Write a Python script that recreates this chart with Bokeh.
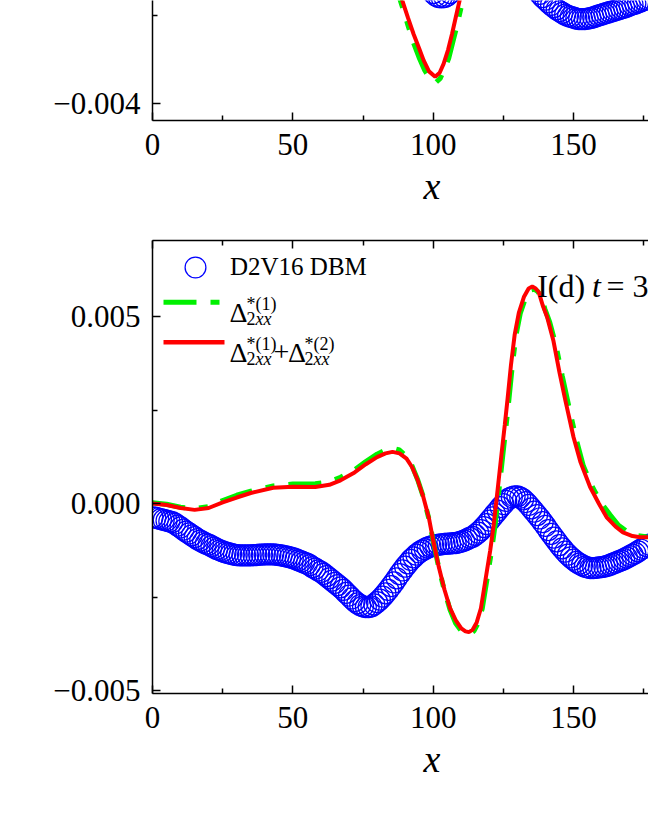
import numpy as np
from bokeh.plotting import figure
from bokeh.models import (Range1d, FixedTicker, LinearAxis, CustomJSTickFormatter,
                          Label, Arrow, Legend, LegendItem, Title)
from bokeh.layouts import column
from bokeh.embed import file_html
from bokeh.resources import INLINE

# ---------------- data ----------------
x_major_ticks = [0, 50, 100, 150]
x_minor_ticks = [25, 75, 125, 175]
bot_y_major = [-0.005, 0.0, 0.005]
bot_y_minor = [-0.0025, 0.0025]
top_y_major = [-0.004, 0.0, 0.004]
top_y_minor = [-0.002, 0.002]

# bottom panel, I(d)
blue_x_bot = list(range(0, 178))
blue_y_bot = [
    -0.00037, -0.00038, -0.00040, -0.00042, -0.00044, -0.00046, -0.00048, -0.00050, -0.00054, -0.00059,
    -0.00064, -0.00070, -0.00075, -0.00080, -0.00085, -0.00090, -0.00095, -0.00099, -0.00103, -0.00107,
    -0.00110, -0.00114, -0.00118, -0.00122, -0.00125, -0.00128, -0.00131, -0.00133, -0.00135, -0.00137,
    -0.00138, -0.00139, -0.00139, -0.00139, -0.00139, -0.00139, -0.00138, -0.00138, -0.00137, -0.00137,
    -0.00136, -0.00136, -0.00136, -0.00136, -0.00137, -0.00138, -0.00139, -0.00141, -0.00142, -0.00144,
    -0.00146, -0.00149, -0.00152, -0.00155, -0.00158, -0.00161, -0.00165, -0.00170, -0.00174, -0.00179,
    -0.00183, -0.00188, -0.00194, -0.00200, -0.00206, -0.00212, -0.00218, -0.00224, -0.00231, -0.00239,
    -0.00246, -0.00254, -0.00261, -0.00267, -0.00272, -0.00275, -0.00277, -0.00277, -0.00275, -0.00270,
    -0.00264, -0.00257, -0.00249, -0.00240, -0.00231, -0.00221, -0.00211, -0.00200, -0.00189, -0.00179,
    -0.00169, -0.00160, -0.00151, -0.00144, -0.00137, -0.00131, -0.00126, -0.00122, -0.00118, -0.00115,
    -0.00113, -0.00111, -0.00110, -0.00109, -0.00108, -0.00107, -0.00107, -0.00106, -0.00106, -0.00104,
    -0.00102, -0.00099, -0.00096, -0.00092, -0.00089, -0.00084, -0.00078, -0.00071, -0.00063, -0.00055,
    -0.00046, -0.00037, -0.00028, -0.00019, -0.00010, -0.00002, 0.00007, 0.00013, 0.00017, 0.00019,
    0.00019, 0.00016, 0.00011, 0.00004, -0.00004, -0.00013, -0.00022, -0.00031, -0.00040, -0.00050,
    -0.00060, -0.00071, -0.00081, -0.00091, -0.00101, -0.00111, -0.00120, -0.00129, -0.00137, -0.00144,
    -0.00150, -0.00156, -0.00161, -0.00165, -0.00169, -0.00171, -0.00173, -0.00173, -0.00172, -0.00171,
    -0.00170, -0.00169, -0.00167, -0.00164, -0.00161, -0.00158, -0.00155, -0.00152, -0.00149, -0.00145,
    -0.00141, -0.00137, -0.00133, -0.00128, -0.00123, -0.00119, -0.00114, -0.00110,
]
green_x_bot = [0, 5, 10, 15, 20, 25, 30, 35, 43, 50, 58, 63, 67, 72, 76, 80, 83, 85.5, 88, 90.5,
               92.5, 94.5, 96.5, 98.5, 100, 102, 104, 106, 108, 110, 111.5, 113, 114.5, 116, 117.5,
               119, 120.8, 122, 123.5, 124.8, 126, 127, 128.2, 129.5, 131, 132.8, 134.5, 136, 137.2,
               138.4, 139.8, 141.5, 143.8, 146, 148.3, 151, 153.5, 157, 160, 163, 166, 169, 172, 177]
green_y_bot = [0.00002, -0.00002, -0.0001, -0.00014, -0.00008, 0.00008, 0.00022, 0.00033, 0.00047, 0.00052,
               0.00053, 0.00058, 0.0007, 0.0009, 0.00112, 0.00132, 0.00143, 0.00148, 0.00143, 0.00126,
               0.001, 0.00063, 0.00017, -0.00042, -0.001, -0.00172, -0.00233, -0.00284, -0.0032, -0.00341,
               -0.00348, -0.00349, -0.00341, -0.0032, -0.0028, -0.0021, -0.00126, -0.0006, 0.0004, 0.0013,
               0.0021, 0.0028, 0.0037, 0.0045, 0.00508, 0.00548, 0.0057, 0.00573, 0.00567, 0.00555,
               0.0052, 0.00485, 0.0042, 0.0034, 0.0026, 0.0017, 0.0010, 0.0004, 0.0, -0.0003,
               -0.00058, -0.00075, -0.00085, -0.0009]
red_x_bot = [0, 5, 10, 15, 20, 25, 30, 35, 43, 50, 58, 63, 67, 72, 76, 80, 83, 85.5, 88, 90.5,
             92.5, 94.5, 96.5, 98.5, 100, 102, 104, 106, 108, 110, 111.5, 112.7, 114, 115.5, 117,
             118.5, 120.3, 121.5, 123, 124.3, 125.5, 126.5, 127.7, 129, 130.5, 132.3, 134, 135.3,
             136.5, 137.6, 139, 140.6, 142.8, 145, 147.1, 150, 152.5, 155.9, 159, 161.8, 165, 167.6,
             171, 173.7, 177]
red_y_bot = [0.0, -0.00004, -0.00012, -0.00017, -0.00012, 0.00003, 0.00016, 0.00028, 0.00042, 0.00045,
             0.00044, 0.0005, 0.00062, 0.00083, 0.00105, 0.00124, 0.00134, 0.00138, 0.00134, 0.00120,
             0.00097, 0.00062, 0.00017, -0.0004, -0.00099, -0.0017, -0.0023, -0.0028, -0.00312, -0.00334,
             -0.00342, -0.00344, -0.00338, -0.00318, -0.0028, -0.0021, -0.00126, -0.0006, 0.0004, 0.0013,
             0.0021, 0.0028, 0.0037, 0.0045, 0.0051, 0.00552, 0.00575, 0.0058, 0.00575, 0.00565,
             0.0053, 0.00498, 0.00436, 0.0035, 0.00275, 0.00177, 0.0011, 0.00044, 0.0, -0.00037,
             -0.00062, -0.00077, -0.00087, -0.0009, -0.0009]

# top panel (only its lower part is in view)
blue_x_top = list(range(97, 110)) + list(range(134, 178))
blue_y_top = [
    -0.00120, -0.00131, -0.00141, -0.00149, -0.00155, -0.00158, -0.00159, -0.00158, -0.00155, -0.00149,
    -0.00141, -0.00131, -0.00120,
    -0.00125, -0.00131, -0.00138, -0.00144, -0.00151, -0.00158, -0.00164, -0.00170, -0.00176, -0.00181,
    -0.00186, -0.00190, -0.00194, -0.00198, -0.00201, -0.00203, -0.00205, -0.00207, -0.00208, -0.00208,
    -0.00208, -0.00207, -0.00206, -0.00204, -0.00202, -0.00200, -0.00198, -0.00196, -0.00194, -0.00192,
    -0.00190, -0.00188, -0.00186, -0.00184, -0.00182, -0.00180, -0.00177, -0.00175, -0.00173, -0.00170,
    -0.00168, -0.00165, -0.00163, -0.00160,
]
green_x_top = [86, 87, 89, 91, 93, 95, 97, 99, 101, 102.5, 104, 105.5, 107, 108.5, 110, 112]
green_y_top = [-0.0011, -0.0014, -0.0018, -0.00222, -0.00262, -0.00296, -0.00325, -0.00345, -0.00352,
               -0.00343, -0.00322, -0.00298, -0.0026, -0.00222, -0.0018, -0.0012]
red_x_top = [86, 89, 91, 93, 95, 96.6, 98.5, 100.7, 102.3, 103.7, 105.3, 106.7, 108, 109.4, 111.5]
red_y_top = [-0.0012, -0.00166, -0.00205, -0.00242, -0.00275, -0.00302, -0.00327, -0.00339, -0.0033,
             -0.0031, -0.00278, -0.00242, -0.00205, -0.00166, -0.0011]

legend_dbm = "D2V16 DBM"
title_parts = ["I(d) ", "t", "= 3"]
x_title = "x"

# ---------------- style ----------------
FONT = "Liberation Serif"
BLUE = "#0000FF"
GREEN = "#00F000"
RED = "#FF0000"
GREEN_DASH = "33 14 9 14"
XR = (0.0, 176.7)
YR_BOT = (-0.0050802, 0.0070321)
YR_TOP = (-0.0043864, -0.0016591)
FRAME_W = 496
FRAME_H_BOT = 453
FRAME_TOP_PX_BOT = 240   # page px of bottom panel frame top
FRAME_LEFT_PX = 152
X_TITLE_OFFSET = 271     # from the frame's left edge (panel continues past the cut)

ytick_fmt = "return tick.toFixed(3).replace('-', '\u2212');"


def style_axis(ax):
    ax.axis_line_width = 1.5
    ax.axis_line_color = "black"
    ax.major_tick_line_width = 1.5
    ax.minor_tick_line_width = 1.5
    ax.major_tick_in = 8
    ax.major_tick_out = 0
    ax.minor_tick_in = 5
    ax.minor_tick_out = 0
    ax.major_label_text_font = FONT
    ax.major_label_text_color = "black"
    ax.major_label_text_font_size = "31px"


def make_fig(height, yr, ymaj, ymin, border_top, border_bottom, top_axis):
    p = figure(width=648, height=height, output_backend="svg", toolbar_location=None,
               x_range=Range1d(*XR), y_range=Range1d(*yr),
               min_border_left=152, min_border_right=0,
               min_border_top=border_top, min_border_bottom=border_bottom)
    p.outline_line_color = None
    p.xgrid.visible = False
    p.ygrid.visible = False
    p.background_fill_color = "white"
    p.border_fill_color = "white"
    xa = p.xaxis[0]
    xa.ticker = FixedTicker(ticks=x_major_ticks, minor_ticks=x_minor_ticks)
    style_axis(xa)
    xa.major_label_standoff = 13
    ya = p.yaxis[0]
    ya.ticker = FixedTicker(ticks=ymaj, minor_ticks=ymin)
    ya.formatter = CustomJSTickFormatter(code=ytick_fmt)
    style_axis(ya)
    ya.major_label_standoff = 12
    if top_axis:
        ta = LinearAxis(ticker=FixedTicker(ticks=x_major_ticks, minor_ticks=x_minor_ticks),
                        formatter=CustomJSTickFormatter(code="return '';"))
        style_axis(ta)
        ta.major_label_text_font_size = "8px"
        ta.major_label_standoff = 0
        p.add_layout(ta, "above")
    # x-axis title below the axis
    p.add_layout(Title(text=x_title, align="left", offset=X_TITLE_OFFSET, standoff=10,
                       text_font=FONT, text_font_style="italic", text_font_size="38px",
                       text_color="black"), "below")
    return p


def draw(p, bx, by, gx, gy, rx, ry):
    b = p.scatter(bx, by, marker="circle", size=21, fill_color=None, line_color=BLUE, line_width=1.25)
    p.line(gx, gy, line_color=GREEN, line_width=5, line_dash=GREEN_DASH)
    p.line(rx, ry, line_color=RED, line_width=4)
    return b


# top panel: frame from page y 0 to 120
p_top = make_fig(230, YR_TOP, top_y_major, top_y_minor, 0, 110, False)
draw(p_top, blue_x_top, blue_y_top, green_x_top, green_y_top, red_x_top, red_y_top)

# bottom panel: frame from page y 240 to 693
p_bot = make_fig(608, YR_BOT, bot_y_major, bot_y_minor, 10, 145, True)
b_r = draw(p_bot, blue_x_bot, blue_y_bot, green_x_bot, green_y_bot, red_x_bot, red_y_bot)


def dx(px):
    return XR[0] + (px - FRAME_LEFT_PX) * (XR[1] - XR[0]) / FRAME_W


def dy(py):
    return YR_BOT[1] - (py - FRAME_TOP_PX_BOT) * (YR_BOT[1] - YR_BOT[0]) / FRAME_H_BOT


def btxt(s, px, py, size, italic=False):
    p_bot.add_layout(Label(x=dx(px), y=dy(py), text=s, text_font=FONT,
                           text_font_size=f"{size}px", text_color="black",
                           text_font_style="italic" if italic else "normal",
                           text_align="left", text_baseline="alphabetic"))


# legend: circle item via Legend, the rest as texts + line samples
leg = Legend(items=[LegendItem(label=legend_dbm, renderers=[b_r])],
             location=(17, 400), glyph_width=52, glyph_height=52, padding=0, margin=0,
             spacing=0, label_standoff=9, label_text_font=FONT, label_text_font_size="25px",
             label_text_color="black", border_line_color=None, background_fill_alpha=0)
p_bot.add_layout(leg)

p_bot.add_layout(Arrow(end=None, x_start=dx(163), y_start=dy(301.7), x_end=dx(221), y_end=dy(301.7),
                       line_color=GREEN, line_width=5, line_dash=GREEN_DASH))
p_bot.add_layout(Arrow(end=None, x_start=dx(163), y_start=dy(341.7), x_end=dx(224), y_end=dy(341.7),
                       line_color=RED, line_width=4.5))

# Δ*(1)_2xx
btxt("Δ", 229, 311.7, 28)
btxt("*(1)", 246, 303, 18)
btxt("2", 246, 318.3, 18)
btxt("xx", 255, 318.3, 18, italic=True)
# Δ*(1)_2xx + Δ*(2)_2xx
btxt("Δ", 229, 351.7, 28)
btxt("*(1)", 246, 343, 18)
btxt("2", 246, 358.3, 18)
btxt("xx", 255, 358.3, 18, italic=True)
btxt("+", 273, 351.7, 28)
btxt("Δ", 287.5, 351.7, 28)
btxt("*(2)", 304, 343, 18)
btxt("2", 304, 358.3, 18)
btxt("xx", 313, 358.3, 18, italic=True)

# panel title (cut at the right edge)
btxt(title_parts[0], 536.7, 285, 32)
btxt(title_parts[1], 591.5, 285, 32, italic=True)
btxt(title_parts[2], 606, 285, 32)

layout = column(p_top, p_bot, spacing=0)
open("out.html", "w").write(file_html(layout, INLINE))
